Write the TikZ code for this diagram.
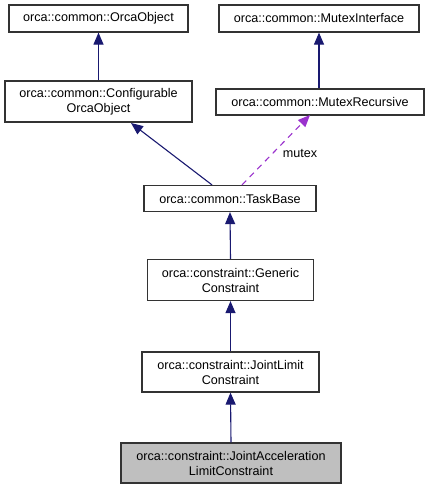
\documentclass[tikz,border=0pt]{standalone}
\usepackage{fontspec}
\setmainfont{Liberation Sans}
\usetikzlibrary{arrows.meta}
\definecolor{navyedge}{HTML}{191970}
\definecolor{mutexcol}{HTML}{9A32CD}
\definecolor{hilite}{HTML}{BFBFBF}
\tikzset{
  cls/.style={draw=black!80, line width=1.2pt, fill=white, inner sep=0pt, align=center,
    font=\fontsize{12.6}{15}\selectfont},
  inh/.style={draw=navyedge, line width=1.1pt, -{Triangle[length=12pt,width=10pt,fill=navyedge]}},
  use/.style={draw=mutexcol, line width=1.1pt, dash pattern=on 6pt off 5pt,
    -{Triangle[length=12pt,width=10pt,fill=mutexcol]}},
}
\begin{document}
\begin{tikzpicture}[x=1pt,y=-1pt]
\useasboundingbox (0,0) rectangle (429,489);
\node[cls, minimum width=179pt, minimum height=27pt] (oo) at (98.5,18.5) {orca::common::OrcaObject};
\node[cls, minimum width=200pt, minimum height=27pt] (mi) at (319,18.5) {orca::common::MutexInterface};
\node[cls, minimum width=187pt, minimum height=41pt] (co) at (98.5,101.5) {orca::common::Configurable\\OrcaObject};
\node[cls, minimum width=208pt, minimum height=26pt] (mr) at (320,102) {orca::common::MutexRecursive};
\node[cls, minimum width=172pt, minimum height=26pt] (tb) at (230,198.5) {orca::common::TaskBase};
\node[cls, minimum width=166pt, minimum height=41pt] (gc) at (230.5,280) {orca::constraint::Generic\\Constraint};
\node[cls, minimum width=177pt, minimum height=40pt] (jl) at (230.5,372) {orca::constraint::JointLimit\\Constraint};
\node[cls, fill=hilite, minimum width=220pt, minimum height=40pt] (ja) at (231,463) {orca::constraint::JointAcceleration\\LimitConstraint};
\node[font=\fontsize{12.6}{15}\selectfont, inner sep=0pt] (lbl) at (300,153) {mutex};

\draw[inh] (co.north -| oo.south) -- (oo.south);
\draw[inh] (mr.north -| mi.south) -- (mi.south);
\draw[inh] ([xshift=-18pt]tb.north) -- (131,123);
\draw[use] ([xshift=12pt]tb.north) -- (310,115);
\draw[inh] (gc.north) -- (tb.south);
\draw[inh] (jl.north) -- (gc.south);
\draw[inh] (ja.north) -- (jl.south);
\end{tikzpicture}
\end{document}
